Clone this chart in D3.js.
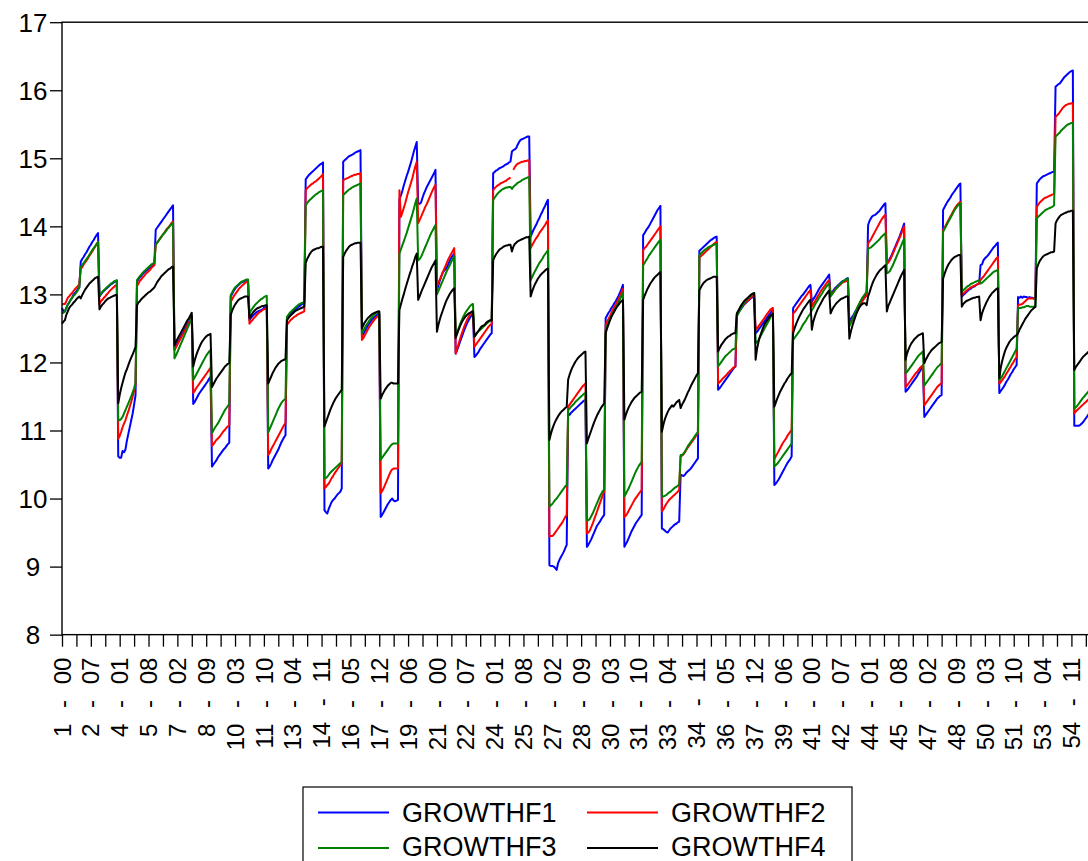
<!DOCTYPE html>
<html>
<head>
<meta charset="utf-8">
<script src="https://cdn.jsdelivr.net/npm/d3@7/dist/d3.min.js"></script>
<style>
  html, body { margin: 0; padding: 0; background: #fff; }
  svg { display: block; }
  text { font-family: "Liberation Sans", Arial, sans-serif; fill: #000; }
</style>
</head>
<body>
<svg id="chart" width="1088" height="861"></svg>
<script>
// Panel structure: 55 cross-sections, periods 00..12 within each
const crossSections = d3.range(1, 56);
const periods = ["00","01","02","03","04","05","06","07","08","09","10","11","12"];

// Labelled ticks on the observation axis (every 20th observation)
const tickLabels = ["1 - 00","2 - 07","4 - 01","5 - 08","7 - 02","8 - 09","10 - 03","11 - 10",
  "13 - 04","14 - 11","16 - 05","17 - 12","19 - 06","21 - 00","22 - 07","24 - 01","25 - 08",
  "27 - 02","28 - 09","30 - 03","31 - 10","33 - 04","34 - 11","36 - 05","37 - 12","39 - 06",
  "41 - 00","42 - 07","44 - 01","45 - 08","47 - 02","48 - 09","50 - 03","51 - 10","53 - 04","54 - 11"];

const yTicks = [8, 9, 10, 11, 12, 13, 14, 15, 16, 17];

// One row per cross-section (periods 00..12)
const growthF1 = [
  12.80,12.75,12.75,12.80,12.85,12.88,12.92,12.95,13.00,13.02,13.05,13.08,13.10,
  13.48,13.52,13.55,13.59,13.62,13.66,13.70,13.73,13.77,13.80,13.84,13.87,13.90,
  12.97,13.00,13.03,13.05,13.07,13.09,13.11,13.13,13.15,13.16,13.18,13.19,13.20,
  10.62,10.60,10.60,10.70,10.68,10.72,10.85,10.95,11.05,11.15,11.25,11.38,11.52,
  13.19,13.22,13.25,13.27,13.30,13.32,13.34,13.36,13.38,13.39,13.41,13.42,13.43,
  13.95,13.98,14.01,14.04,14.07,14.10,14.13,14.16,14.19,14.22,14.25,14.28,14.31,
  12.20,12.24,12.28,12.32,12.36,12.40,12.44,12.48,12.52,12.56,12.60,12.64,12.68,
  11.39,11.42,11.46,11.50,11.54,11.57,11.60,11.63,11.66,11.69,11.72,11.76,11.79,
  10.47,10.50,10.53,10.56,10.60,10.63,10.66,10.69,10.72,10.74,10.77,10.80,10.82,
  12.97,13.01,13.05,13.08,13.11,13.13,13.15,13.17,13.18,13.19,13.20,13.21,13.21,
  12.62,12.65,12.68,12.70,12.72,12.74,12.75,12.76,12.77,12.78,12.80,12.81,12.82,
  10.44,10.47,10.51,10.56,10.60,10.64,10.68,10.72,10.77,10.82,10.86,10.90,10.93,
  12.64,12.67,12.70,12.72,12.74,12.76,12.78,12.80,12.82,12.83,12.85,12.86,12.87,
  14.69,14.72,14.75,14.77,14.79,14.81,14.83,14.85,14.87,14.89,14.91,14.92,14.94,
  9.83,9.80,9.78,9.85,9.90,9.95,9.98,10.00,10.03,10.06,10.08,10.10,10.15,
  14.95,14.97,14.99,15.01,15.03,15.04,15.05,15.06,15.08,15.09,15.10,15.11,15.12,
  12.38,12.42,12.46,12.50,12.54,12.57,12.60,12.63,12.65,12.67,12.69,12.71,12.72,
  9.73,9.76,9.80,9.84,9.88,9.92,9.95,9.98,10.00,9.97,9.96,9.97,9.98,
  14.40,14.45,14.52,14.60,14.67,14.74,14.80,14.87,14.94,15.02,15.10,15.17,15.24,
  14.34,14.33,14.35,14.42,14.48,14.53,14.58,14.62,14.66,14.70,14.74,14.78,14.83,
  13.07,13.13,13.20,13.26,13.32,13.35,13.37,13.40,13.45,13.50,13.54,13.57,13.60,
  12.13,12.18,12.24,12.30,12.36,12.42,12.48,12.53,12.58,12.62,12.66,12.69,12.72,
  12.08,12.10,12.13,12.16,12.20,12.23,12.26,12.29,12.32,12.35,12.38,12.41,12.43,
  14.78,14.80,14.82,14.83,14.85,14.86,14.87,14.88,14.90,14.91,14.92,14.94,14.95,
  15.10,15.12,15.13,15.15,15.20,15.24,15.27,15.28,15.29,15.30,15.31,15.32,15.32,
  13.85,13.90,13.95,13.99,14.03,14.08,14.12,14.17,14.21,14.26,14.30,14.35,14.39,
  9.02,9.01,9.01,9.00,8.98,8.95,9.05,9.10,9.14,9.18,9.22,9.27,9.32,
  11.25,11.23,11.26,11.28,11.30,11.32,11.34,11.36,11.38,11.40,11.42,11.44,11.45,
  9.29,9.32,9.36,9.40,9.45,9.50,9.55,9.60,9.63,9.66,9.70,9.73,9.76,
  12.65,12.69,12.73,12.76,12.80,12.83,12.87,12.90,12.94,12.98,13.03,13.08,13.14,
  9.29,9.33,9.37,9.42,9.47,9.52,9.56,9.60,9.64,9.67,9.70,9.73,9.76,
  13.87,13.90,13.94,13.97,14.00,14.04,14.08,14.12,14.16,14.20,14.24,14.27,14.30,
  9.56,9.55,9.53,9.51,9.50,9.53,9.56,9.58,9.60,9.62,9.63,9.65,9.66,
  10.35,10.34,10.33,10.35,10.38,10.40,10.42,10.44,10.47,10.50,10.53,10.56,10.59,
  13.64,13.66,13.68,13.70,13.72,13.74,13.76,13.78,13.80,13.81,13.83,13.84,13.85,
  11.60,11.62,11.65,11.68,11.71,11.74,11.77,11.80,11.83,11.86,11.89,11.92,11.94,
  12.70,12.73,12.76,12.79,12.82,12.85,12.87,12.89,12.91,12.93,12.95,12.96,12.97,
  12.43,12.45,12.48,12.51,12.54,12.57,12.60,12.63,12.66,12.69,12.72,12.75,12.77,
  10.20,10.22,10.25,10.28,10.32,10.36,10.40,10.44,10.48,10.52,10.55,10.58,10.62,
  12.80,12.83,12.86,12.89,12.92,12.95,12.98,13.00,13.03,13.06,13.09,13.12,13.14,
  12.89,12.93,12.96,13.00,13.04,13.08,13.11,13.14,13.17,13.20,13.23,13.26,13.29,
  13.00,13.03,13.06,13.09,13.11,13.13,13.15,13.17,13.19,13.20,13.21,13.23,13.24,
  12.60,12.63,12.67,12.70,12.74,12.78,12.82,12.86,12.90,12.93,12.96,12.99,13.01,
  14.02,14.08,14.12,14.15,14.16,14.17,14.19,14.21,14.23,14.26,14.29,14.32,14.34,
  13.45,13.48,13.52,13.56,13.61,13.66,13.71,13.76,13.81,13.86,13.92,13.98,14.04,
  11.57,11.59,11.62,11.65,11.68,11.71,11.74,11.77,11.80,11.84,11.87,11.91,11.94,
  11.20,11.23,11.26,11.29,11.32,11.35,11.38,11.41,11.44,11.47,11.49,11.51,11.52,
  14.24,14.28,14.32,14.36,14.39,14.42,14.46,14.49,14.52,14.55,14.58,14.61,14.63,
  12.97,12.99,13.01,13.03,13.05,13.07,13.08,13.10,13.11,13.12,13.14,13.15,13.16,
  13.43,13.44,13.50,13.53,13.55,13.57,13.60,13.63,13.66,13.69,13.71,13.74,13.76,
  11.55,11.58,11.61,11.64,11.68,11.72,11.75,11.79,11.83,11.86,11.90,11.93,11.96,
  12.96,12.95,12.97,12.95,12.97,12.96,12.96,12.95,12.96,12.95,12.95,12.94,12.94,
  14.63,14.66,14.69,14.71,14.73,14.74,14.75,14.76,14.77,14.78,14.79,14.80,14.80,
  16.05,16.07,16.09,16.10,16.13,16.16,16.19,16.21,16.23,16.25,16.27,16.28,16.29,
  11.07,11.07,11.07,11.07,11.08,11.10,11.12,11.15,11.18,11.21,11.24,11.27,11.30
];

const growthF2 = [
  12.85,12.86,12.86,12.90,12.95,12.97,13.00,13.02,13.05,13.08,13.10,13.12,13.15,
  13.38,13.40,13.44,13.47,13.50,13.53,13.57,13.60,13.63,13.67,13.70,13.74,13.77,
  12.86,12.90,12.92,12.95,12.97,13.00,13.02,13.05,13.07,13.09,13.11,13.13,13.14,
  10.88,10.92,10.98,11.05,11.10,11.15,11.22,11.28,11.35,11.42,11.50,11.58,11.67,
  13.12,13.16,13.20,13.22,13.25,13.27,13.30,13.32,13.34,13.36,13.39,13.41,13.43,
  13.73,13.76,13.79,13.82,13.85,13.88,13.91,13.94,13.97,13.99,14.02,14.05,14.07,
  12.18,12.22,12.26,12.30,12.34,12.38,12.42,12.46,12.50,12.54,12.58,12.62,12.66,
  11.55,11.58,11.62,11.65,11.68,11.71,11.74,11.77,11.80,11.83,11.86,11.89,11.92,
  10.77,10.80,10.83,10.86,10.88,10.90,10.93,10.96,10.99,11.01,11.04,11.06,11.08,
  12.89,12.93,12.97,13.00,13.03,13.06,13.09,13.11,13.13,13.15,13.17,13.18,13.19,
  12.57,12.60,12.62,12.65,12.67,12.70,12.72,12.74,12.75,12.77,12.78,12.79,12.80,
  10.64,10.67,10.72,10.76,10.80,10.84,10.88,10.92,10.96,11.00,11.04,11.08,11.11,
  12.55,12.58,12.61,12.63,12.65,12.67,12.68,12.70,12.71,12.72,12.73,12.74,12.75,
  14.53,14.56,14.58,14.60,14.62,14.63,14.65,14.66,14.68,14.70,14.72,14.74,14.77,
  10.15,10.17,10.20,10.22,10.26,10.30,10.33,10.37,10.40,10.43,10.46,10.49,10.52,
  14.68,14.69,14.70,14.71,14.72,14.73,14.74,14.75,14.76,14.76,14.77,14.77,14.78,
  12.33,12.36,12.40,12.44,12.48,12.52,12.55,12.58,12.61,12.64,12.66,12.68,12.70,
  10.08,10.11,10.15,10.20,10.25,10.30,10.35,10.40,10.43,10.44,10.44,10.44,10.44,
  14.53,14.14,14.20,14.27,14.34,14.42,14.50,14.57,14.64,14.71,14.80,14.88,14.95,
  14.05,14.09,14.14,14.19,14.24,14.29,14.33,14.38,14.43,14.48,14.53,14.57,14.61,
  13.12,13.17,13.22,13.27,13.32,13.37,13.42,13.47,13.52,13.56,13.60,13.64,13.68,
  12.13,12.20,12.27,12.34,12.41,12.47,12.53,12.58,12.63,12.67,12.71,12.74,12.77,
  12.23,12.26,12.29,12.32,12.35,12.38,12.41,12.44,12.47,12.50,12.53,12.55,12.57,
  14.53,14.56,14.58,14.60,14.61,14.63,14.64,14.65,14.66,14.67,14.69,14.70,14.72,
  null,14.83,14.87,14.90,14.92,14.93,14.94,14.95,14.95,14.96,14.96,14.97,14.97,
  13.68,13.72,13.76,13.80,13.83,13.86,13.90,13.93,13.96,13.99,14.02,14.06,14.09,
  9.44,9.45,9.45,9.47,9.50,9.53,9.56,9.59,9.62,9.65,9.69,9.73,9.76,
  11.35,11.38,11.41,11.44,11.47,11.50,11.53,11.56,11.59,11.62,11.65,11.67,11.69,
  9.49,9.50,9.53,9.58,9.63,9.69,9.75,9.81,9.87,9.93,9.99,10.05,10.10,
  12.55,12.60,12.64,12.68,12.73,12.77,12.81,12.85,12.89,12.93,12.98,13.03,13.08,
  9.73,9.75,9.78,9.82,9.86,9.90,9.94,9.98,10.01,10.04,10.07,10.10,10.13,
  13.65,13.68,13.70,13.73,13.76,13.79,13.82,13.85,13.88,13.91,13.94,13.97,14.00,
  9.81,9.84,9.88,9.92,9.95,9.98,10.00,10.02,10.04,10.06,10.08,10.10,10.13,
  10.62,10.63,10.65,10.68,10.72,10.75,10.78,10.81,10.84,10.87,10.90,10.93,10.96,
  13.55,13.56,13.58,13.60,13.62,13.64,13.66,13.68,13.70,13.72,13.74,13.76,13.77,
  11.69,11.71,11.73,11.76,11.78,11.80,11.82,11.85,11.87,11.89,11.91,11.93,11.94,
  12.72,12.75,12.78,12.81,12.84,12.86,12.88,12.90,12.92,12.94,12.96,12.98,12.99,
  12.48,12.50,12.53,12.56,12.59,12.62,12.65,12.68,12.71,12.74,12.77,12.79,12.80,
  10.58,10.62,10.66,10.70,10.74,10.78,10.82,10.85,10.88,10.92,10.95,10.98,11.01,
  12.72,12.74,12.77,12.80,12.83,12.86,12.89,12.92,12.95,12.98,13.01,13.04,13.06,
  12.82,12.86,12.89,12.93,12.97,13.00,13.04,13.07,13.10,13.13,13.16,13.19,13.21,
  12.99,13.02,13.04,13.07,13.09,13.11,13.13,13.15,13.17,13.18,13.19,13.20,13.21,
  12.55,12.58,12.62,12.66,12.70,12.74,12.78,12.82,12.86,12.90,12.93,12.96,12.98,
  13.75,13.78,13.81,13.85,13.89,13.93,13.97,14.01,14.05,14.09,14.12,14.15,14.17,
  13.45,13.47,13.50,13.54,13.59,13.64,13.69,13.74,13.79,13.84,13.89,13.95,14.00,
  11.64,11.66,11.69,11.72,11.75,11.78,11.81,11.84,11.86,11.89,11.92,11.94,11.96,
  11.37,11.40,11.43,11.46,11.49,11.52,11.55,11.58,11.61,11.64,11.66,11.68,11.69,
  13.95,13.98,14.02,14.06,14.10,14.14,14.18,14.22,14.26,14.29,14.32,14.34,14.36,
  12.99,13.01,13.03,13.05,13.07,13.08,13.10,13.11,13.12,13.13,13.14,13.15,13.16,
  13.21,13.24,13.26,13.29,13.32,13.35,13.38,13.41,13.44,13.47,13.50,13.53,13.55,
  11.69,11.71,11.74,11.77,11.80,11.84,11.87,11.91,11.94,11.98,12.01,12.05,12.08,
  12.84,12.85,12.85,12.86,12.88,12.90,12.92,12.94,12.94,12.94,12.94,12.94,12.94,
  14.29,14.32,14.35,14.37,14.39,14.41,14.42,14.43,14.44,14.45,14.46,14.47,14.48,
  15.61,15.63,15.65,15.68,15.71,15.74,15.76,15.78,15.79,15.80,15.80,15.81,15.81,
  11.25,11.28,11.30,11.32,11.34,11.36,11.38,11.40,11.42,11.44,11.46,11.48,11.50
];

const growthF3 = [
  12.72,12.73,12.75,12.80,12.85,12.88,12.92,12.95,12.98,13.00,13.03,13.06,13.10,
  13.40,13.43,13.46,13.49,13.52,13.55,13.58,13.62,13.65,13.68,13.71,13.74,13.77,
  12.98,13.01,13.04,13.06,13.08,13.10,13.12,13.14,13.16,13.17,13.19,13.20,13.21,
  11.15,11.15,11.17,11.20,11.25,11.30,11.35,11.40,11.45,11.50,11.56,11.62,11.70,
  13.21,13.24,13.27,13.29,13.32,13.34,13.36,13.38,13.40,13.42,13.44,13.45,13.46,
  13.73,13.76,13.79,13.82,13.85,13.88,13.90,13.93,13.96,13.98,14.01,14.03,14.05,
  12.06,12.10,12.15,12.20,12.25,12.30,12.35,12.40,12.45,12.50,12.55,12.60,12.65,
  11.74,11.78,11.82,11.86,11.90,11.94,11.98,12.02,12.06,12.10,12.13,12.16,12.18,
  10.96,11.00,11.04,11.07,11.10,11.14,11.18,11.22,11.26,11.30,11.33,11.36,11.39,
  12.99,13.03,13.07,13.10,13.12,13.14,13.16,13.18,13.19,13.20,13.21,13.22,13.22,
  12.72,12.76,12.79,12.82,12.85,12.87,12.89,12.91,12.93,12.94,12.96,12.97,12.98,
  10.97,11.02,11.07,11.12,11.17,11.22,11.27,11.32,11.36,11.40,11.43,11.45,11.47,
  12.67,12.70,12.73,12.75,12.77,12.79,12.81,12.83,12.85,12.86,12.87,12.88,12.89,
  14.31,14.34,14.37,14.39,14.41,14.43,14.45,14.47,14.48,14.50,14.51,14.52,14.53,
  10.30,10.30,10.32,10.35,10.38,10.40,10.42,10.44,10.46,10.48,10.50,10.52,10.54,
  14.46,14.48,14.50,14.52,14.54,14.55,14.57,14.58,14.59,14.60,14.61,14.62,14.63,
  12.43,12.47,12.51,12.55,12.58,12.61,12.64,12.67,12.69,12.71,12.73,12.74,12.75,
  10.57,10.60,10.63,10.66,10.69,10.72,10.75,10.78,10.80,10.81,10.81,10.81,10.81,
  13.60,13.66,13.72,13.78,13.84,13.90,13.97,14.04,14.11,14.18,14.26,14.34,14.41,
  13.50,13.52,13.55,13.60,13.65,13.70,13.75,13.80,13.85,13.90,13.94,13.98,14.02,
  13.00,13.05,13.10,13.15,13.20,13.25,13.30,13.35,13.39,13.43,13.48,13.52,13.56,
  12.38,12.44,12.50,12.56,12.61,12.66,12.70,12.74,12.77,12.80,12.83,12.85,12.86,
  12.38,12.41,12.44,12.46,12.48,12.50,12.52,12.54,12.56,12.58,12.60,12.61,12.62,
  14.39,14.42,14.45,14.48,14.50,14.52,14.54,14.55,14.56,14.57,14.57,14.58,14.58,
  14.55,14.58,14.60,14.62,14.64,14.65,14.66,14.68,14.69,14.70,14.71,14.72,14.72,
  13.21,13.25,13.30,13.34,13.38,13.42,13.46,13.49,13.52,13.56,13.59,13.62,13.65,
  9.88,9.90,9.92,9.95,9.98,10.00,10.03,10.06,10.09,10.12,10.15,10.18,10.20,
  11.30,11.32,11.35,11.37,11.39,11.42,11.44,11.46,11.48,11.50,11.52,11.54,11.55,
  9.68,9.68,9.70,9.74,9.78,9.83,9.88,9.93,9.98,10.03,10.07,10.11,10.13,
  12.48,12.53,12.58,12.63,12.68,12.72,12.76,12.80,12.84,12.88,12.93,12.98,13.02,
  10.03,10.07,10.11,10.15,10.20,10.25,10.30,10.35,10.40,10.44,10.48,10.51,10.54,
  13.43,13.46,13.50,13.53,13.57,13.60,13.63,13.66,13.69,13.72,13.75,13.78,13.80,
  10.03,10.03,10.04,10.05,10.07,10.09,10.10,10.12,10.14,10.16,10.17,10.19,10.20,
  10.64,10.64,10.66,10.69,10.73,10.77,10.80,10.83,10.86,10.89,10.92,10.95,10.98,
  13.58,13.60,13.62,13.64,13.66,13.67,13.69,13.70,13.71,13.72,13.73,13.74,13.74,
  11.94,11.97,12.00,12.03,12.06,12.09,12.11,12.13,12.15,12.17,12.19,12.20,12.21,
  12.68,12.72,12.76,12.80,12.84,12.87,12.90,12.93,12.95,12.97,12.99,13.01,13.02,
  12.28,12.30,12.33,12.37,12.41,12.45,12.49,12.53,12.57,12.61,12.65,12.69,12.72,
  10.47,10.49,10.51,10.54,10.57,10.60,10.63,10.66,10.69,10.72,10.75,10.78,10.81,
  12.33,12.36,12.39,12.42,12.45,12.48,12.52,12.56,12.59,12.62,12.66,12.69,12.72,
  12.77,12.80,12.84,12.88,12.91,12.95,12.98,13.01,13.05,13.08,13.11,13.14,13.16,
  12.97,13.00,13.03,13.06,13.09,13.11,13.14,13.16,13.18,13.20,13.21,13.22,13.23,
  12.53,12.58,12.63,12.68,12.73,12.78,12.83,12.87,12.91,12.95,12.98,13.01,13.04,
  13.68,13.68,13.69,13.71,13.73,13.75,13.77,13.79,13.81,13.84,13.86,13.88,13.90,
  13.31,13.32,13.34,13.38,13.42,13.47,13.52,13.57,13.62,13.67,13.72,13.77,13.82,
  11.84,11.86,11.89,11.92,11.95,11.98,12.01,12.04,12.07,12.10,12.12,12.14,12.16,
  11.66,11.69,11.72,11.75,11.78,11.81,11.84,11.87,11.90,11.93,11.95,11.97,11.99,
  13.92,13.96,14.00,14.04,14.08,14.12,14.16,14.20,14.24,14.27,14.30,14.32,14.34,
  13.04,13.06,13.08,13.10,13.12,13.13,13.15,13.16,13.17,13.18,13.19,13.20,13.21,
  13.16,13.17,13.19,13.21,13.23,13.25,13.27,13.29,13.31,13.33,13.34,13.35,13.36,
  11.74,11.77,11.80,11.84,11.88,11.92,11.96,12.00,12.04,12.08,12.12,12.16,12.20,
  12.80,12.80,12.80,12.81,12.81,12.82,12.83,12.83,12.82,12.82,12.82,12.82,12.82,
  14.12,14.14,14.16,14.18,14.20,14.22,14.24,14.25,14.26,14.27,14.28,14.29,14.31,
  15.32,15.34,15.36,15.38,15.41,15.43,15.45,15.47,15.49,15.50,15.51,15.52,15.52,
  11.32,11.34,11.36,11.39,11.42,11.45,11.48,11.50,11.53,11.55,11.58,11.60,11.62
];

const growthF4 = [
  12.57,12.60,12.62,12.70,12.75,12.80,12.83,12.85,12.88,12.90,12.93,12.95,12.97,
  12.94,12.99,13.03,13.07,13.10,13.13,13.16,13.18,13.20,13.22,13.24,13.25,13.26,
  12.78,12.82,12.85,12.87,12.90,12.92,12.94,12.95,12.96,12.97,12.98,12.99,12.99,
  11.40,11.52,11.62,11.70,11.78,11.85,11.90,11.96,12.02,12.07,12.12,12.17,12.23,
  12.84,12.88,12.90,12.93,12.95,12.97,12.99,13.01,13.03,13.04,13.06,13.08,13.10,
  13.14,13.18,13.21,13.24,13.27,13.29,13.31,13.33,13.35,13.37,13.38,13.40,13.41,
  12.25,12.30,12.34,12.38,12.42,12.46,12.50,12.54,12.58,12.62,12.65,12.69,12.73,
  11.94,12.03,12.10,12.16,12.21,12.26,12.30,12.33,12.36,12.38,12.40,12.41,12.42,
  11.64,11.68,11.72,11.76,11.79,11.82,11.85,11.88,11.91,11.94,11.96,11.98,11.99,
  12.70,12.76,12.81,12.85,12.88,12.91,12.93,12.94,12.95,12.96,12.97,12.97,12.97,
  12.65,12.69,12.72,12.75,12.77,12.79,12.80,12.81,12.82,12.83,12.83,12.84,12.84,
  11.69,11.74,11.79,11.84,11.88,11.92,11.95,11.98,12.00,12.02,12.03,12.04,12.05,
  12.62,12.65,12.68,12.70,12.72,12.74,12.76,12.77,12.78,12.79,12.80,12.81,12.82,
  13.46,13.52,13.56,13.60,13.63,13.65,13.66,13.67,13.68,13.68,13.69,13.70,13.70,
  11.06,11.12,11.18,11.24,11.30,11.35,11.40,11.44,11.48,11.51,11.54,11.57,11.60,
  13.55,13.60,13.64,13.67,13.70,13.72,13.73,13.74,13.75,13.75,13.76,13.76,13.76,
  12.50,12.55,12.59,12.62,12.65,12.67,12.69,12.71,12.72,12.73,12.74,12.75,12.75,
  11.47,11.52,11.56,11.60,11.63,11.66,11.68,11.70,11.70,11.69,11.69,11.69,11.69,
  12.77,12.85,12.93,13.00,13.08,13.15,13.22,13.29,13.35,13.42,13.48,13.55,13.60,
  12.92,12.97,13.03,13.08,13.13,13.18,13.23,13.28,13.33,13.38,13.42,13.46,13.50,
  12.45,12.55,12.63,12.70,12.76,12.82,12.88,12.93,12.97,13.01,13.04,13.07,13.09,
  12.36,12.42,12.48,12.53,12.58,12.62,12.65,12.68,12.70,12.72,12.73,12.74,12.75,
  12.38,12.41,12.44,12.47,12.50,12.53,12.54,12.55,12.58,12.60,12.61,12.62,12.62,
  13.50,13.55,13.59,13.62,13.65,13.67,13.68,13.70,13.71,13.72,13.72,13.73,13.73,
  13.63,13.70,13.74,13.76,13.78,13.79,13.80,13.81,13.82,13.83,13.84,13.84,13.85,
  12.97,13.04,13.10,13.15,13.19,13.23,13.26,13.29,13.31,13.33,13.35,13.37,13.38,
  10.86,10.95,11.02,11.08,11.13,11.17,11.21,11.24,11.27,11.29,11.31,11.33,11.35,
  11.75,11.82,11.88,11.93,11.97,12.01,12.04,12.07,12.09,12.11,12.13,12.15,12.16,
  10.81,10.88,10.94,11.00,11.06,11.12,11.17,11.22,11.26,11.30,11.34,11.37,11.40,
  12.43,12.50,12.56,12.62,12.67,12.71,12.75,12.79,12.82,12.85,12.88,12.90,12.92,
  11.16,11.23,11.29,11.34,11.38,11.42,11.45,11.48,11.50,11.52,11.54,11.56,11.57,
  12.92,12.98,13.03,13.08,13.12,13.16,13.19,13.22,13.25,13.27,13.29,13.31,13.33,
  10.98,11.08,11.16,11.22,11.27,11.31,11.34,11.37,11.35,11.38,11.41,11.43,11.45,
  11.33,11.38,11.42,11.46,11.51,11.56,11.60,11.65,11.69,11.73,11.77,11.81,11.84,
  13.06,13.10,13.14,13.17,13.19,13.21,13.22,13.23,13.24,13.25,13.26,13.26,13.26,
  12.16,12.21,12.25,12.28,12.31,12.34,12.36,12.38,12.39,12.41,12.42,12.43,12.43,
  12.72,12.76,12.80,12.84,12.87,12.90,12.92,12.94,12.96,12.98,13.00,13.01,13.02,
  12.04,12.20,12.30,12.38,12.44,12.50,12.55,12.59,12.62,12.65,12.68,12.70,12.72,
  11.35,11.41,11.47,11.52,11.57,11.61,11.65,11.69,11.72,11.76,11.79,11.82,11.84,
  12.43,12.50,12.56,12.61,12.66,12.70,12.74,12.78,12.81,12.84,12.87,12.90,12.92,
  12.48,12.60,12.67,12.73,12.78,12.82,12.86,12.90,12.94,12.97,13.00,13.03,13.06,
  12.72,12.77,12.81,12.84,12.87,12.89,12.91,12.93,12.94,12.95,12.96,12.97,12.97,
  12.35,12.45,12.53,12.60,12.66,12.72,12.77,12.81,12.84,12.86,12.87,12.87,12.84,
  12.97,13.03,13.10,13.16,13.21,13.25,13.29,13.32,13.35,13.37,13.39,13.41,13.43,
  12.75,12.83,12.88,12.93,12.98,13.03,13.08,13.13,13.18,13.23,13.28,13.32,13.36,
  12.04,12.13,12.19,12.24,12.28,12.31,12.34,12.36,12.38,12.40,12.41,12.42,12.43,
  11.99,12.04,12.08,12.12,12.15,12.18,12.20,12.22,12.24,12.26,12.28,12.29,12.30,
  13.23,13.30,13.36,13.41,13.45,13.48,13.51,13.53,13.55,13.56,13.57,13.58,13.58,
  12.82,12.86,12.88,12.90,12.91,12.92,12.93,12.94,12.95,12.95,12.96,12.96,12.97,
  12.62,12.72,12.78,12.83,12.88,12.92,12.96,12.99,13.02,13.04,13.06,13.08,13.09,
  11.77,11.92,12.02,12.10,12.17,12.22,12.26,12.30,12.33,12.35,12.37,12.39,12.40,
  12.43,12.48,12.52,12.56,12.60,12.64,12.67,12.70,12.73,12.76,12.78,12.80,12.82,
  13.38,13.44,13.49,13.52,13.55,13.57,13.58,13.59,13.60,13.61,13.62,13.62,13.63,
  14.04,14.09,14.12,14.15,14.17,14.18,14.19,14.20,14.21,14.22,14.22,14.23,14.23,
  11.89,11.93,11.96,11.99,12.02,12.05,12.08,12.10,12.12,12.14,12.16,12.18,12.20
];

const seriesNames = ["GROWTHF1", "GROWTHF2", "GROWTHF3", "GROWTHF4"];
const seriesColors = ["#0000ff", "#ff0000", "#008000", "#000000"];
const seriesValues = [growthF1, growthF2, growthF3, growthF4];

// Observation labels "cross-section - period"
const obsLabels = [];
crossSections.forEach(c => periods.forEach(p => obsLabels.push(`${c} - ${p}`)));

const svg = d3.select("#chart");

const plot = { left: 62, top: 22.2, bottom: 634.65 };
const x = d3.scaleLinear().domain([0, obsLabels.length - 1]).range([plot.left, 1091.6]);
const y = d3.scaleLinear().domain([8, 17]).range([plot.bottom, plot.top]);

// Series lines
const line = d3.line()
  .defined(d => d.v !== null)
  .x(d => x(d.i))
  .y(d => y(d.v));

seriesValues.forEach((vals, k) => {
  svg.append("path")
    .datum(vals.map((v, i) => ({ i, v })))
    .attr("fill", "none")
    .attr("stroke", seriesColors[k])
    .attr("stroke-width", 2)
    .attr("stroke-linejoin", "round")
    .attr("d", line);
});

// Frame
svg.append("rect")
  .attr("x", plot.left).attr("y", plot.top)
  .attr("width", x(obsLabels.length - 1) - plot.left)
  .attr("height", plot.bottom - plot.top)
  .attr("fill", "none").attr("stroke", "#000").attr("stroke-width", 1.4);

// Y axis: outward ticks, labels centred in the margin
const yAxis = d3.axisLeft(y).tickValues(yTicks).tickSize(12).tickFormat("");
const gy = svg.append("g").attr("transform", `translate(${plot.left},0)`).call(yAxis);
gy.select(".domain").remove();
gy.selectAll(".tick line").attr("stroke", "#000").attr("stroke-width", 1.3);

svg.append("g").selectAll("text")
  .data(yTicks)
  .join("text")
  .attr("x", 33)
  .attr("y", d => y(d))
  .attr("dy", "0.36em")
  .attr("text-anchor", "middle")
  .style("font-size", "26px")
  .text(d3.format("d"));

// X axis: ticks every 10 observations, labels every 20
const xTickIdx = d3.range(0, obsLabels.length, 10);
const labelIdx = tickLabels.map(t => obsLabels.indexOf(t));
const xAxis = d3.axisBottom(x).tickValues(xTickIdx).tickSize(12).tickFormat("");
const gx = svg.append("g").attr("transform", `translate(0,${plot.bottom})`).call(xAxis);
gx.select(".domain").remove();
gx.selectAll(".tick line").attr("stroke", "#000").attr("stroke-width", 1.3);

svg.append("g").selectAll("text")
  .data(labelIdx)
  .join("text")
  .attr("transform", i => `translate(${x(i)},${plot.bottom + 23}) rotate(-90)`)
  .attr("text-anchor", "end")
  .attr("dy", "0.36em")
  .style("font-size", "24px")
  .style("word-spacing", "9px")
  .style("white-space", "pre")
  .text(i => obsLabels[i]);

// Legend
const legend = svg.append("g");
legend.append("rect")
  .attr("x", 303).attr("y", 787).attr("width", 549).attr("height", 100)
  .attr("fill", "#fff").attr("stroke", "#000").attr("stroke-width", 1.2);

const legendPos = [
  { lx: 318, ly: 812.5, tx: 402, ty: 821.5 },
  { lx: 587, ly: 812.5, tx: 671, ty: 821.5 },
  { lx: 318, ly: 848, tx: 402, ty: 856 },
  { lx: 587, ly: 848, tx: 671, ty: 856 }
];
seriesNames.forEach((name, k) => {
  const p = legendPos[k];
  legend.append("line")
    .attr("x1", p.lx).attr("x2", p.lx + 71)
    .attr("y1", p.ly).attr("y2", p.ly)
    .attr("stroke", seriesColors[k]).attr("stroke-width", 1.8);
  legend.append("text")
    .attr("x", p.tx).attr("y", p.ty)
    .style("font-size", "27px")
    .text(name);
});
</script>
</body>
</html>
